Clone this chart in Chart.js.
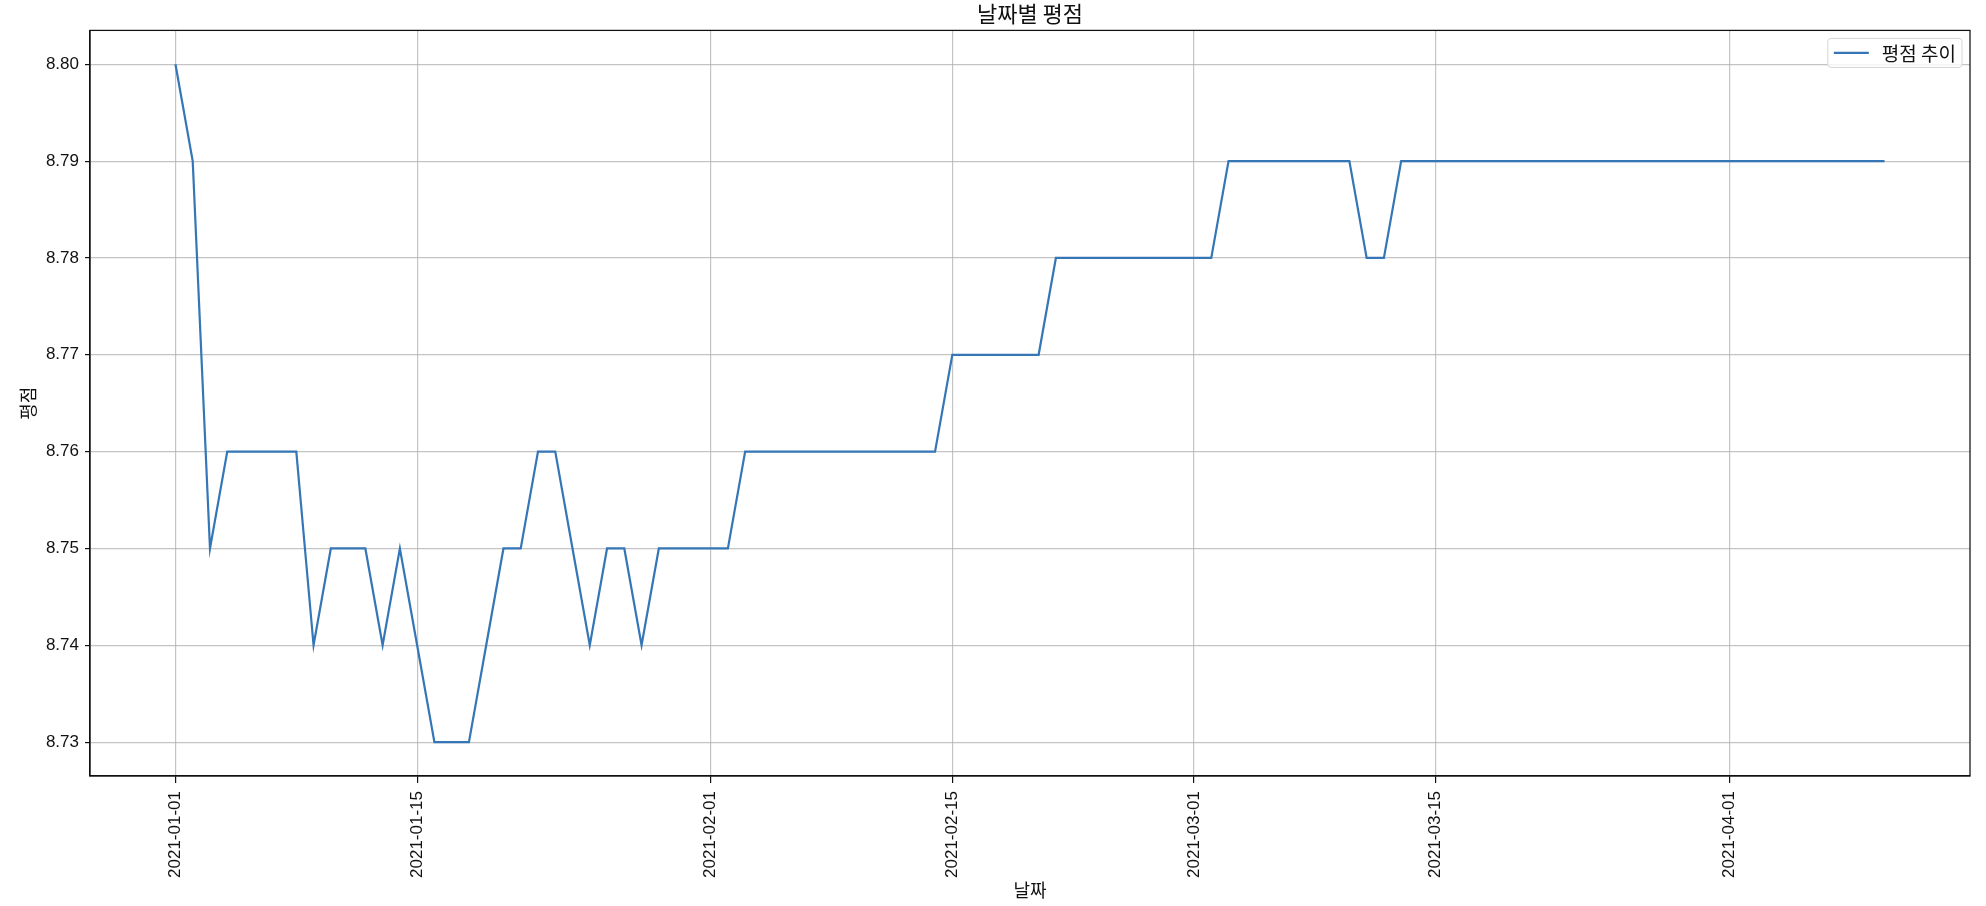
<!DOCTYPE html>
<html lang="ko">
<head>
<meta charset="utf-8">
<title>날짜별 평점</title>
<script src="https://cdn.jsdelivr.net/npm/chart.js@4.4.1/dist/chart.umd.min.js"></script>
<style>
    html, body { margin: 0; padding: 0; background: #fff; }
    .chart-wrap { width: 1986px; height: 906px; position: relative; }
</style>
</head>
<body>
<div class="chart-wrap">
    <canvas id="rating-chart"></canvas>
</div>
<script>
// Daily rating, one value per day starting at startDate
const startDate = '2021-01-01';
const ratings = [
    8.80, 8.79, 8.75, 8.76, 8.76, 8.76, 8.76, 8.76, 8.74, 8.75,
    8.75, 8.75, 8.74, 8.75, 8.74, 8.73, 8.73, 8.73, 8.74, 8.75,
    8.75, 8.76, 8.76, 8.75, 8.74, 8.75, 8.75, 8.74, 8.75, 8.75,
    8.75, 8.75, 8.75, 8.76, 8.76, 8.76, 8.76, 8.76, 8.76, 8.76,
    8.76, 8.76, 8.76, 8.76, 8.76, 8.77, 8.77, 8.77, 8.77, 8.77,
    8.77, 8.78, 8.78, 8.78, 8.78, 8.78, 8.78, 8.78, 8.78, 8.78,
    8.78, 8.79, 8.79, 8.79, 8.79, 8.79, 8.79, 8.79, 8.79, 8.78,
    8.78, 8.79, 8.79, 8.79, 8.79, 8.79, 8.79, 8.79, 8.79, 8.79,
    8.79, 8.79, 8.79, 8.79, 8.79, 8.79, 8.79, 8.79, 8.79, 8.79,
    8.79, 8.79, 8.79, 8.79, 8.79, 8.79, 8.79, 8.79, 8.79, 8.79
];
const xTickDates = ['2021-01-01', '2021-01-15', '2021-02-01', '2021-02-15', '2021-03-01', '2021-03-15', '2021-04-01'];
const yTicks = [8.73, 8.74, 8.75, 8.76, 8.77, 8.78, 8.79, 8.80];

const DAY = 24 * 60 * 60 * 1000;
const t0 = Date.parse(startDate);
const points = ratings.map((v, i) => ({ x: t0 + i * DAY, y: v }));

// matplotlib-like 5% margins around the data
const xFirst = points[0].x, xLast = points[points.length - 1].x;
const xPad = (xLast - xFirst) * 0.05;
const yMin = Math.min(...ratings), yMax = Math.max(...ratings);
const yPad = (yMax - yMin) * 0.05;

const tickFont = { family: '"Liberation Sans", Arial, sans-serif', size: 17 };
const krFont = '"Noto Sans CJK KR", sans-serif';

// frame around the plot area (top and right spines)
const frame = {
    id: 'frame',
    afterDatasetsDraw(chart) {
        const { ctx, chartArea: a } = chart;
        ctx.save();
        ctx.strokeStyle = '#111';
        ctx.lineWidth = 1.25;
        ctx.strokeRect(a.left, a.top, a.right - a.left, a.bottom - a.top);
        ctx.restore();
    }
};

// legend box in the upper right corner of the plot
const legendBox = {
    id: 'legendBox',
    afterDraw(chart) {
        const { ctx, chartArea: a } = chart;
        const ds = chart.data.datasets[0];
        ctx.save();
        ctx.font = '19px ' + krFont;
        const tw = ctx.measureText(ds.label).width;
        const w = 54 + tw + 6, h = 29;
        const x = a.right - 8 - w, y = a.top + 8;
        ctx.beginPath();
        ctx.roundRect(x, y, w, h, 3);
        ctx.fillStyle = 'rgba(255,255,255,0.8)';
        ctx.fill();
        ctx.strokeStyle = '#d5d5d5';
        ctx.lineWidth = 1;
        ctx.stroke();
        ctx.beginPath();
        ctx.moveTo(x + 6, y + h / 2);
        ctx.lineTo(x + 41, y + h / 2);
        ctx.strokeStyle = ds.borderColor;
        ctx.lineWidth = ds.borderWidth;
        ctx.stroke();
        ctx.fillStyle = '#111';
        ctx.textBaseline = 'middle';
        ctx.fillText(ds.label, x + 54, y + h / 2 + 1);
        ctx.restore();
    }
};

const ctx = document.getElementById('rating-chart');
new Chart(ctx, {
    type: 'line',
    data: {
        datasets: [{
            label: '평점 추이',
            data: points,
            borderColor: '#3476b6',
            borderWidth: 2.2,
            pointRadius: 0,
            tension: 0,
            fill: false
        }]
    },
    options: {
        responsive: true,
        maintainAspectRatio: false,
        animation: false,
        layout: { padding: { left: 0, right: 16, top: 0, bottom: 0 } },
        plugins: {
            legend: { display: false },
            tooltip: { enabled: false },
            title: {
                display: true,
                fullSize: false,
                text: '날짜별 평점',
                color: '#111',
                font: { family: krFont, size: 22, weight: 'normal' },
                padding: { top: 0, bottom: 4 }
            }
        },
        scales: {
            x: {
                type: 'linear',
                min: xFirst - xPad,
                max: xLast + xPad,
                afterBuildTicks: function(scale) {
                    scale.ticks = xTickDates.map(d => ({ value: Date.parse(d) }));
                },
                afterFit: function(scale) {
                    scale.height = 130;
                },
                ticks: {
                    autoSkip: false,
                    minRotation: 90,
                    maxRotation: 90,
                    padding: 8,
                    color: '#111',
                    font: tickFont,
                    callback: function(value) {
                        return new Date(value).toISOString().slice(0, 10);
                    }
                },
                grid: {
                    color: 'rgba(176,176,176,0.75)',
                    lineWidth: 1.2,
                    tickLength: 7,
                    tickColor: '#111'
                },
                border: { display: true, color: '#111', width: 1.25 },
                title: {
                    display: true,
                    text: '날짜',
                    color: '#111',
                    font: { family: krFont, size: 18 },
                    padding: { top: 0, bottom: 5 }
                }
            },
            y: {
                type: 'linear',
                min: yMin - yPad,
                max: yMax + yPad,
                afterBuildTicks: function(scale) {
                    scale.ticks = yTicks.map(v => ({ value: v }));
                },
                afterFit: function(scale) {
                    scale.width = 90;
                },
                ticks: {
                    padding: 6,
                    color: '#111',
                    font: tickFont,
                    callback: function(value) {
                        return Number(value).toFixed(2);
                    }
                },
                grid: {
                    color: 'rgba(176,176,176,0.75)',
                    lineWidth: 1.2,
                    tickLength: 5,
                    tickColor: '#111'
                },
                border: { display: true, color: '#111', width: 1.25 },
                title: {
                    display: true,
                    text: '평점',
                    color: '#111',
                    font: { family: krFont, size: 18 },
                    padding: { top: 17, bottom: 0 }
                }
            }
        }
    },
    plugins: [frame, legendBox]
});
</script>
</body>
</html>
